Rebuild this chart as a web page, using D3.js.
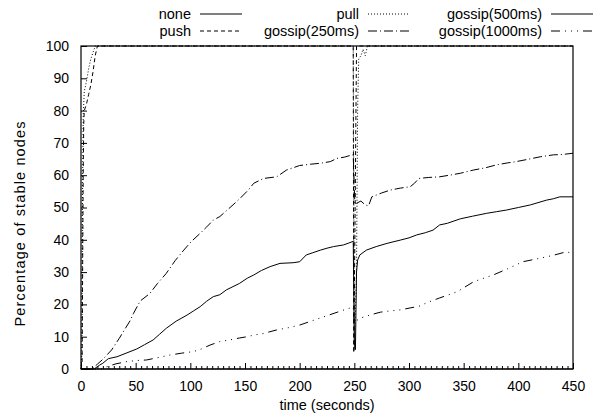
<!DOCTYPE html>
<html><head><meta charset="utf-8">
<script src="https://cdn.jsdelivr.net/npm/d3@7"></script>
<style>body{margin:0;background:#fff}svg{display:block}text{font-family:"Liberation Sans",Arial,Helvetica,sans-serif;fill:#000}</style>
</head><body><svg id="c" width="595" height="415"></svg>
<script>
const xTicks = [0,50,100,150,200,250,300,350,400,450];
const yTicks = [0,10,20,30,40,50,60,70,80,90,100];
const seriesNames = ["none","push","pull","gossip(250ms)","gossip(500ms)","gossip(1000ms)"];

const noneData = [[0,0],[450,0]];
const pushData = [[0,0],[1,2],[1.5,30],[2,60],[2.5,76],[3,80],[5,82],[7,85],[9,88],[11,92],[13,97],[15,100],[249,100],[249.5,5],[250.5,40],[252,100],[450,100]];
const pullData = [[0,0],[0.8,5],[1.3,50],[2,78],[3,86],[5,89],[7,93],[9,96],[11,98],[13,100],[249,100],[250,6],[252,30],[253,80],[254,96],[256,97],[258,99],[260,97],[262,100],[450,100]];
const gossip250Data = [[0,0],[10,0],[15,1.5],[20,3],[28,5.9],[35,9.5],[45,15],[48,17.2],[54,21],[63,23.4],[70,26.5],[78,29.6],[86,33.5],[94,36.8],[101,39.5],[109,42],[115,44],[121,46.1],[127,47.2],[133,49],[139,50.8],[146,53],[153,55.4],[158,57.5],[167,59],[179,59.5],[188,61.6],[200,63],[210,63.4],[219,63.7],[228,64.2],[234,65.2],[241,65.6],[248,66.3],[249,66.3],[250.5,51],[252,51.3],[256,52],[260,50.8],[263,50.5],[266,53.3],[275,54.5],[283,55.4],[292,56],[301,56.4],[305,57.5],[309,59],[318,59.3],[328,59.5],[337,60],[347,60.6],[359,61.6],[370,62.3],[380,63.2],[390,63.8],[398,64.2],[410,65],[420,65.7],[432,66.3],[440,66.4],[450,66.8]];
const gossip500Data = [[0,0],[12,0],[17,1.2],[20,1.8],[25,3.2],[33,3.8],[42,5],[51,6.2],[58,7.5],[66,9],[72,10.8],[78,12.6],[87,14.8],[97,16.7],[103,18],[109,19.3],[115,21],[121,22.4],[127,23],[133,24.5],[139,25.5],[145,26.5],[152,28.1],[158,29.1],[165,30.5],[173,31.7],[182,32.7],[194,32.9],[200,33.2],[206,35.3],[212,36],[219,36.8],[225,37.4],[231,37.9],[240,38.4],[245,39],[248,39.4],[249,39.6],[250,8],[251,6],[252,30],[253,33.7],[255,35.3],[261,36.8],[270,37.9],[280,38.9],[292,39.9],[300,40.6],[307,41.5],[315,42.2],[322,43],[328,44.6],[335,45.1],[347,46.5],[358,47.3],[371,48.2],[380,48.7],[389,49.2],[400,50],[411,50.8],[418,51.5],[426,52.3],[432,52.7],[438,53.3],[450,53.3]];
const gossip1000Data = [[0,0],[18,0],[23.5,0.7],[32,1.6],[42,2.3],[50,2.6],[60,2.8],[70,3.5],[81,4.3],[92,4.9],[103,5.4],[110,6.2],[118,7.4],[127,8.5],[136,9],[145,9.6],[152,10],[158,10.5],[167,11],[179,12.1],[190,12.8],[200,13.6],[212,15],[225,16.5],[238,18],[249,19.2],[250,14],[252,15],[256,15.8],[265,16.8],[274,17.6],[283,18],[292,18.3],[301,18.9],[310,19.5],[316,20.5],[328,22],[344,23.9],[359,27],[370,28.3],[377,29.1],[390,31],[404,33.2],[420,34.3],[432,35.2],[444,36.3],[447,36]];

const svg = d3.select("#c");
const L=81,R=573,T=46,B=369;
const x = d3.scaleLinear().domain([0,450]).range([L,R]);
const y = d3.scaleLinear().domain([0,100]).range([B,T]);

const series = [
  {name:seriesNames[0], data:noneData, dash:null},
  {name:seriesNames[1], data:pushData, dash:"4,3"},
  {name:seriesNames[2], data:pullData, dash:"1,2"},
  {name:seriesNames[3], data:gossip250Data, dash:"9,3,1,3"},
  {name:seriesNames[4], data:gossip500Data, dash:null},
  {name:seriesNames[5], data:gossip1000Data, dash:"9,5,1,5,1,5,1,5"}
];

const line = d3.line().x(d=>x(d[0])).y(d=>y(d[1]));
svg.append("g").selectAll("path").data(series).join("path")
  .attr("d", d=>line(d.data)).attr("fill","none").attr("stroke","#000")
  .attr("stroke-width",1).attr("stroke-dasharray",d=>d.dash);

// axes
const yAxis = d3.axisLeft(y).tickValues(yTicks).tickSizeInner(-6).tickSizeOuter(0).tickPadding(12);
const gy = svg.append("g").attr("transform",`translate(${L},0)`).call(yAxis);
const xAxis = d3.axisBottom(x).tickValues(xTicks).tickSizeInner(-6).tickSizeOuter(0).tickPadding(12);
const gx = svg.append("g").attr("transform",`translate(0,${B})`).call(xAxis);
const xMinor = d3.range(0,451,5).filter(v=>v%50!==0);
const xMinorAxis = d3.axisBottom(x).tickValues(xMinor).tickSize(-3).tickFormat("");
const gxm = svg.append("g").attr("transform",`translate(0,${B})`).call(xMinorAxis);
[gy,gx,gxm].forEach(g=>{g.select(".domain").remove();g.selectAll("line").attr("stroke","#000");g.selectAll("text").style("font-size","14px").attr("fill","#000");});

svg.append("rect").attr("x",L).attr("y",T).attr("width",R-L).attr("height",B-T)
  .attr("fill","none").attr("stroke","#000").attr("stroke-width",1.2);

svg.append("text").attr("x",(L+R)/2).attr("y",410).attr("text-anchor","middle").style("font-size","14.5px").text("time (seconds)");
svg.append("text").attr("transform","translate(25,224) rotate(-90)").attr("text-anchor","middle")
  .attr("textLength",205).attr("lengthAdjust","spacing").style("font-size","14.5px").text("Percentage of stable nodes");

// legend
const cols=[200,368,551], rows=[14,31], sampleW=42;
const lg = svg.append("g");
series.forEach((s,i)=>{
  const cx = cols[Math.floor(i/2)], cy = rows[i%2];
  lg.append("text").attr("x",cx-9).attr("y",cy).attr("dy","0.35em").attr("text-anchor","end").style("font-size","14.5px").text(s.name);
  lg.append("line").attr("x1",cx).attr("x2",cx+sampleW).attr("y1",cy).attr("y2",cy).attr("stroke","#000").attr("stroke-width",1).attr("stroke-dasharray",s.dash);
});
</script></body></html>
